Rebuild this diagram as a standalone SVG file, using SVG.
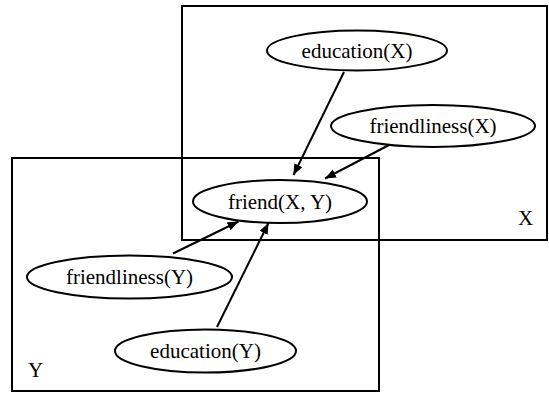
<svg xmlns="http://www.w3.org/2000/svg" width="549" height="395" viewBox="0 0 549 395">
<style>
.plate{fill:none;stroke:#000;stroke-width:2}
.node ellipse{fill:#fff;stroke:#000;stroke-width:2}
.node text{text-anchor:middle}
.edge{stroke:#000;stroke-width:2;fill:none;marker-end:url(#arr)}
</style>
<defs>
<marker id="arr" markerUnits="userSpaceOnUse" markerWidth="12" markerHeight="10" refX="11" refY="4.5" orient="auto">
<path d="M0,0 L11,4.5 L0,9 Z" fill="#000"/>
</marker>
</defs>
<rect width="549" height="395" fill="#fff"/>
<g font-family="'Liberation Serif', 'Times New Roman', 'DejaVu Serif', serif" font-size="21" fill="#000">
<g id="plate-X">
<rect class="plate" x="182" y="6" width="365" height="234"/>
<text x="518" y="225">X</text>
</g>
<g id="plate-Y">
<rect class="plate" x="12" y="158" width="367" height="233"/>
<text x="28" y="377">Y</text>
</g>
<g id="edges">
<line class="edge" x1="344" y1="72" x2="293.5" y2="175"/>
<line class="edge" x1="389" y1="145" x2="325" y2="178.5"/>
<line class="edge" x1="173" y1="253.5" x2="238.5" y2="221.5"/>
<line class="edge" x1="217" y1="327" x2="268.5" y2="223"/>
</g>
<g id="education-X" class="node">
<ellipse cx="357" cy="50.5" rx="90" ry="20"/>
<text x="357" y="57.5">education(X)</text>
</g>
<g id="friendliness-X" class="node">
<ellipse cx="433" cy="126" rx="102" ry="21"/>
<text x="433" y="133">friendliness(X)</text>
</g>
<g id="friend-XY" class="node">
<ellipse cx="280" cy="201.5" rx="87" ry="21.5"/>
<text x="280" y="208.5">friend(X, Y)</text>
</g>
<g id="friendliness-Y" class="node">
<ellipse cx="129.5" cy="277" rx="102.5" ry="21.5"/>
<text x="129.5" y="284">friendliness(Y)</text>
</g>
<g id="education-Y" class="node">
<ellipse cx="205.5" cy="351" rx="90.5" ry="21.5"/>
<text x="205.5" y="358">education(Y)</text>
</g>
</g>
</svg>
